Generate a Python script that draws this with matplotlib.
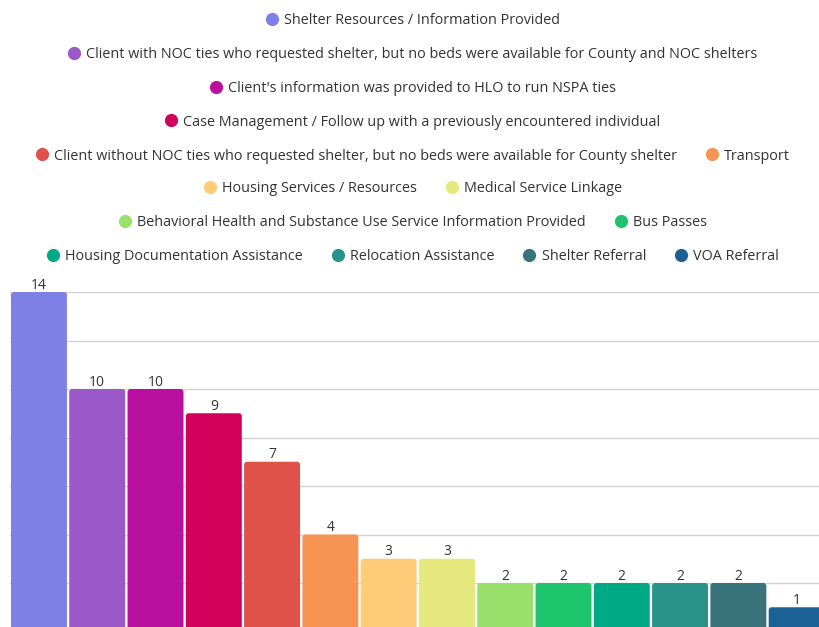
#!/usr/bin/env python3

import matplotlib

matplotlib.use("Agg")
import matplotlib.pyplot as plt
from matplotlib.lines import Line2D
from matplotlib.patches import FancyBboxPatch

IMAGE_SIZE_PX = (820, 627)
IMAGE_DPI = 100

CATEGORIES = [
    "Shelter Resources / Information Provided",
    "Client with NOC ties who requested shelter, but no beds were available for County and NOC shelters",
    "Client's information was provided to HLO to run NSPA ties",
    "Case Management / Follow up with a previously encountered individual",
    "Client without NOC ties who requested shelter, but no beds were available for County shelter",
    "Transport",
    "Housing Services / Resources",
    "Medical Service Linkage",
    "Behavioral Health and Substance Use Service Information Provided",
    "Bus Passes",
    "Housing Documentation Assistance",
    "Relocation Assistance",
    "Shelter Referral",
    "VOA Referral",
]
COUNTS = [14, 10, 10, 9, 7, 4, 3, 3, 2, 2, 2, 2, 2, 1]
COLORS = [
    "#7f80e6", "#9b58c9", "#ba10a0", "#d1005b", "#e0514a", "#f79453", "#fecb78",
    "#e5e87c", "#9ae06c", "#1dc46b", "#00a985", "#27938a", "#39747a", "#1c6196",
]
# how many legend entries go on each centred row
LEGEND_ROWS = [1, 1, 1, 1, 2, 2, 2, 4]

FONT = "Open Sans"
TEXT_COLOR = "#333333"


def main():
    fig = plt.figure(figsize=(IMAGE_SIZE_PX[0] / IMAGE_DPI, IMAGE_SIZE_PX[1] / IMAGE_DPI),
                     dpi=IMAGE_DPI)
    W, H = IMAGE_SIZE_PX

    # axes run a little past the right and bottom edges, like the original
    ax = fig.add_axes([9.8 / W, (H - 631.5) / H, 816 / W, 339.5 / H])
    x = list(range(len(COUNTS)))
    bars = ax.bar(x, COUNTS, width=0.96, color=COLORS, zorder=2)

    # swap the plain rectangles for ones with slightly rounded corners
    aspect = (1 / 24.25) / (1 / 58.3)
    for bar, color in zip(bars, COLORS):
        bar.set_visible(False)
        patch = FancyBboxPatch(
            (bar.get_x(), bar.get_y()), bar.get_width(), bar.get_height(),
            boxstyle="round,pad=0,rounding_size=0.05", mutation_aspect=aspect,
            facecolor=color, edgecolor="none", zorder=2,
        )
        ax.add_patch(patch)

    for xi, v in zip(x, COUNTS):
        ax.annotate(str(v), (xi, v), xytext=(0, 2.5), textcoords="offset points",
                    ha="center", va="baseline", fontsize=10, family=FONT,
                    color=TEXT_COLOR)

    ax.set_xlim(-0.5, len(COUNTS) - 0.5)
    ax.set_ylim(0, 14)
    ax.set_yticks(range(0, 15, 2))
    ax.grid(axis="y", color="#d2d2d2", linewidth=1, zorder=0)
    ax.tick_params(left=False, bottom=False, labelleft=False, labelbottom=False)
    for spine in ax.spines.values():
        spine.set_visible(False)

    # legend: one centred row per legend call
    row_y_px = [21, 55, 89, 122, 156, 189, 223, 257]
    start = 0
    for n, ypx in zip(LEGEND_ROWS, row_y_px):
        idx = range(start, start + n)
        start += n
        handles = [
            Line2D([], [], marker="o", linestyle="none", markersize=9.5,
                   markerfacecolor=COLORS[i], markeredgecolor="none")
            for i in idx
        ]
        labels = [CATEGORIES[i] for i in idx]
        fig.legend(handles, labels, loc="center",
                   bbox_to_anchor=(0.5 + 3 / W, 1 - ypx / H),
                   ncol=n, frameon=False, handlelength=0.8, handletextpad=0.45,
                   columnspacing=2.0, borderpad=0,
                   prop={"family": FONT, "size": 10.4}, labelcolor=TEXT_COLOR)

    fig.savefig("out.png", dpi=IMAGE_DPI)


if __name__ == "__main__":
    main()
